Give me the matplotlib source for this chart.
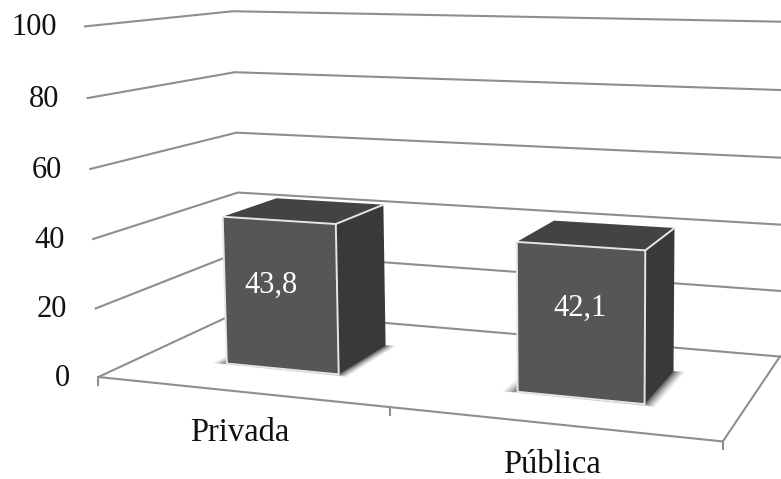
import numpy as np
import matplotlib
matplotlib.use("Agg")
import matplotlib.pyplot as plt
from matplotlib.patches import Polygon

categories = ["Privada", "Pública"]
values = [43.8, 42.1]
value_labels = ["43,8", "42,1"]
y_ticks = [0, 20, 40, 60, 80, 100]

# camera calibration: (category axis, value, depth) -> pixel
calib_world = [(0, 0, 0), (0, 100, 0), (0, 0, 1), (0, 100, 1), (2, 0, 1), (2, 100, 1),
               (2, 0, 0), (1, 0, 0), (0, 40, 0), (0, 40, 1), (2, 40, 1)]
calib_px = [(99, 376), (85, 26), (241, 311), (233, 11.5), (780, 356), (785, 22),
            (723, 440), (389, 410), (93, 239), (238, 192), (782, 225)]


def fit_camera(world, px):
    rows, rhs = [], []
    for (a, b, c), (x, y) in zip(world, px):
        rows.append([a, b, c, 1, 0, 0, 0, 0, -a * x, -b * x, -c * x])
        rhs.append(x)
        rows.append([0, 0, 0, 0, a, b, c, 1, -a * y, -b * y, -c * y])
        rhs.append(y)
    sol = np.linalg.lstsq(np.array(rows, float), np.array(rhs, float), rcond=None)[0]
    return np.append(sol, 1.0).reshape(3, 4)


CAM = fit_camera(calib_world, calib_px)


def proj(u, v, w):
    p = CAM @ np.array([u, v, w, 1.0])
    return p[0] / p[2], p[1] / p[2]


plt.rcParams["font.family"] = ["Liberation Serif", "DejaVu Serif"]
fig = plt.figure(figsize=(7.81, 4.79), dpi=100, facecolor="white")
ax = fig.add_axes([0, 0, 1, 1])
ax.set_xlim(0, 781)
ax.set_ylim(479, 0)
ax.axis("off")

LINE = "#8e8e8e"
# gridlines on left and back walls
for t in y_ticks:
    pts = [proj(0, t, 0), proj(0, t, 1), proj(2, t, 1)]
    ax.plot(*zip(*pts), color=LINE, lw=1.5, zorder=1, solid_joinstyle="round")
    x0, y0 = proj(0, t, 0)
    ax.text(x0 - 28.5, y0 + 1.5, str(t), ha="right", va="center", fontsize=22, color="#111111")

# floor front and right edges
ax.plot(*zip(proj(0, 0, 0), proj(2, 0, 0), proj(2, 0, 1)), color=LINE, lw=1.5, zorder=1)
ax.add_patch(Polygon([proj(0, 0, 0), proj(2, 0, 0), proj(2, 0, 1), proj(0, 0, 1)],
                     closed=True, facecolor="white", edgecolor="none", zorder=0.5))
# category ticks
for u in [0, 1, 2]:
    x, y = proj(u, 0, 0)
    ax.plot([x, x], [y, y + 8], color=LINE, lw=1.5, zorder=1)

# bars
half_w = 0.2
centers = [0.507, 1.508]
label_centers = [0.507, 1.51]
w0, w1 = 0.29, 0.69
label_off = [(-10, -9), (-1, -14)]
for i, (c, val) in enumerate(zip(centers, values)):
    a, b = c - half_w, c + half_w
    # soft contact shadow on the floor
    for k, al in zip([1.0, 0.8, 0.6, 0.4, 0.2], [0.08, 0.1, 0.14, 0.18, 0.24]):
        ax.add_patch(Polygon([proj(a - k * 0.045, 0, w0 - k * 0.012), proj(b + k * 0.035, 0, w0 - k * 0.02),
                              proj(b + k * 0.035, 0, w1 + k * 0.01), proj(a - k * 0.045, 0, w1 - 0.05)],
                             closed=True, facecolor="black", edgecolor="none", alpha=al, zorder=1.5))
    front = [proj(a, 0, w0), proj(b, 0, w0), proj(b, val, w0), proj(a, val, w0)]
    side = [proj(b, 0, w0), proj(b, 0, w1), proj(b, val, w1), proj(b, val, w0)]
    top = [proj(a, val, w0), proj(b, val, w0), proj(b, val, w1), proj(a, val, w1)]
    ax.add_patch(Polygon(front, closed=True, facecolor="#565656", edgecolor="none", zorder=2))
    ax.add_patch(Polygon(side, closed=True, facecolor="#393939", edgecolor="none", zorder=2))
    ax.add_patch(Polygon(top, closed=True, facecolor="#434343", edgecolor="none", zorder=2))
    edge = "#e6e6e6"
    ax.plot(*zip(*[front[0], front[1], front[2], front[3], front[0]]), color=edge, lw=1.4, zorder=3)
    ax.plot(*zip(front[2], side[2]), color=edge, lw=1.4, zorder=3)
    cx = sum(p[0] for p in front) / 4
    cy = sum(p[1] for p in front) / 4
    ax.text(cx + label_off[i][0], cy + label_off[i][1], value_labels[i], color="white",
            ha="center", va="center", fontsize=22, zorder=4)
    # category label
    lx, ly = proj(label_centers[i] - 0.007, 0, 0)
    ax.text(lx, ly + 49.5, categories[i], ha="center", va="baseline", fontsize=23.5, color="#111111")

fig.savefig("out.png", dpi=100, facecolor="white")
